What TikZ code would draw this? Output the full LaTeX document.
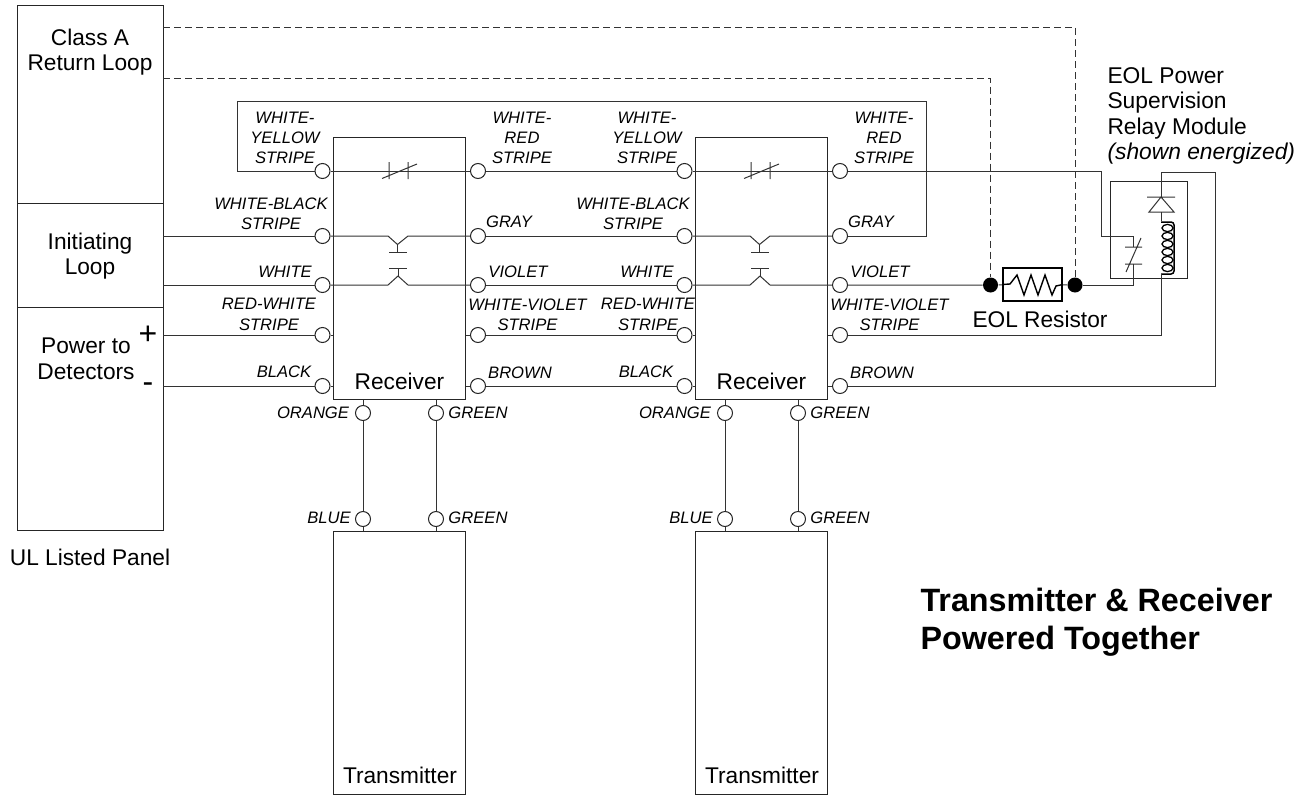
\documentclass[tikz,border=0pt]{standalone}
\usepackage{fontspec}
\setmainfont{Liberation Sans}
\begin{document}
\begin{tikzpicture}[x=1pt,y=-1pt,
  line width=1pt,
  wire/.style={draw=black!80},
  box/.style={draw=black!85,line width=1pt},
  term/.style={circle,draw=black!85,fill=white,minimum size=15pt,inner sep=0pt,line width=1pt},
  dot/.style={circle,fill=black,minimum size=15pt,inner sep=0pt},
  lab/.style={font=\fontsize{16.6}{20.3}\selectfont\itshape,align=center,inner sep=0pt},
  txt/.style={font=\fontsize{22.7}{25.5}\selectfont,align=center,inner sep=0pt},
  dashwire/.style={draw=black!80,dash pattern=on 7pt off 4pt}]
\useasboundingbox (0,0) rectangle (1309,795);
% panel
\node[box,minimum width=146pt,minimum height=525pt,inner sep=0pt] (panel) at (90,267.5) {};
\coordinate (p1l) at (17,203); \coordinate (p1r) at (163,203);
\coordinate (p2l) at (17,307); \coordinate (p2r) at (163,307);
\draw[box] (p1l)--(p1r) (p2l)--(p2r);
\node[txt] (classa) at (90,52) {Class A\\Return Loop};
\node[txt] (init) at (90,256) {Initiating\\Loop};
\node[txt] (power) at (86,359) {Power to\\Detectors};
\node[font=\fontsize{32}{30}\selectfont,inner sep=0pt] (plus) at (148,335) {+};
\node[font=\fontsize{32}{30}\selectfont,inner sep=0pt] (minus) at (148,388) {-};
\node[txt] (ul) at (90,557) {UL Listed Panel};
\node[font=\fontsize{32.3}{38}\selectfont\bfseries,align=left,inner sep=0pt,anchor=west] (title) at (920,622) {Transmitter \& Receiver\\Powered Together};
\foreach \n/\d/\e in {1/0/0,2/362/379}{
  \node[box,minimum width=132pt,minimum height=262.5pt,inner sep=0pt] (rx\n) at (399.5+\d,268.25) {};
  \node[box,minimum width=132pt,minimum height=263pt,inner sep=0pt] (tx\n) at (399.5+\d,662.5) {};
  \node[txt,anchor=center] (rxl\n) at (399.5+\d,381) {Receiver};
  \node[txt,anchor=center] (txl\n) at (400+\d,775) {Transmitter};
  \foreach \k/\y in {a/171,b/236,c/285,d/335,e/386}{
    \node[term] (l\k\n) at (322.5+\d,\y) {};
    \node[term] (r\k\n) at (478+\d,\y) {};
  }
  \node[term] (bo\n) at (363+\d,413) {};
  \node[term] (bg\n) at (436+\d,413) {};
  \node[term] (tb\n) at (363+\d,519) {};
  \node[term] (tg\n) at (436+\d,519) {};
  \draw[wire] (rx\n.south -| bo\n) -- (bo\n) (bo\n) -- (tb\n) (tb\n) -- (tx\n.north -| tb\n);
  \draw[wire] (rx\n.south -| bg\n) -- (bg\n) (bg\n) -- (tg\n) (tg\n) -- (tx\n.north -| tg\n);
  % stubs
  \draw[wire] (ld\n) -- (rx\n.west |- ld\n) (le\n) -- (rx\n.west |- le\n)
              (rd\n) -- (rx\n.east |- rd\n) (re\n) -- (rx\n.east |- re\n);
  % NC contact
  \draw[wire] (la\n) -- (ra\n);
  \draw[wire] (389+\d,162) -- (389+\d,179) (408+\d,162) -- (408+\d,179) (382+\d,178.5) -- (417+\d,164);
  % opto NO / NC
  \draw[wire] (lb\n) -- (388+\d,236) -- (397.5+\d,244.5) -- (408+\d,236) -- (rb\n);
  \draw[wire] (397.5+\d,244.5) -- (397.5+\d,252.5) (389+\d,252.5) -- (407+\d,252.5);
  \draw[wire] (lc\n) -- (388+\d,285) -- (398+\d,276) -- (408+\d,285) -- (rc\n);
  \draw[wire] (398+\d,276) -- (398+\d,268) (389+\d,268) -- (407+\d,268);
  % labels
  \node[lab] (n1\n) at (285+\d,138) {WHITE-\\YELLOW\\STRIPE};
  \node[lab] (n2\n) at (271+\d,214) {WHITE-BLACK\\STRIPE};
  \node[lab] (n3\n) at (285+\d,272) {WHITE};
  \node[lab] (n4\n) at (269+\e,314.5) {RED-WHITE\\STRIPE};
  \node[lab] (n5\n) at (284+\d,372) {BLACK};
  \node[lab] (n6\n) at (522+\d,138) {WHITE-\\RED\\STRIPE};
  \node[lab] (n7\n) at (509+\d,222) {GRAY};
  \node[lab] (n8\n) at (518+\d,272) {VIOLET};
  \node[lab] (n9\n) at (527.5+\d,314.5) {WHITE-VIOLET\\STRIPE};
  \node[lab] (n10\n) at (520+\d,373) {BROWN};
  \node[lab] (n11\n) at (313+\d,413) {ORANGE};
  \node[lab] (n12\n) at (478+\d,413) {GREEN};
  \node[lab] (n13\n) at (329+\d,518) {BLUE};
  \node[lab] (n14\n) at (478+\d,518) {GREEN};
}
% wires from panel
\foreach \k/\y in {b/236,c/285,d/335,e/386}{
  \draw[wire] (163,\y) -- (l\k1);
}
\foreach \k in {a,b,c,d,e}{ \draw[wire] (r\k1) -- (l\k2); }
% top loop
\draw[wire] (la1) -- (237,171) -- (237,101) -- (926,101) -- (926,236) -- (rb2);
% resistor
\node[dot] (d1) at (990.5,285) {};
\node[dot] (d2) at (1075,285) {};
\node[draw=black,line width=1.7pt,minimum width=59pt,minimum height=33pt,inner sep=0pt] (res) at (1032.5,284.5) {};
\draw[wire] (rc2) -- (d1) -- (res);
\draw[wire] (res) -- (d2);
\draw[draw=black,line width=1.4pt] (res.west) -- (1010,284) -- (1017,275) -- (1024,295) -- (1031,275) -- (1038,295) -- (1045,275) -- (1052,295) -- (1056,286) -- (res.east);
\node[txt] (eol) at (1040,319) {EOL Resistor};
% dashed return
\draw[dashwire] (163,27) -- (1075,27) -- (d2);
\draw[dashwire] (163,78) -- (990.5,78) -- (d1);
% relay
\node[box,minimum width=77pt,minimum height=97pt,inner sep=0pt] (relay) at (1149.2,229.5) {};
\draw[wire] (ra2) -- (1101,171) -- (1101,236) -- (1133,236) -- (1133,247);
\draw[wire] (1125,247) -- (1142,247) (1125,264) -- (1142,264) (1126,272) -- (1141,238);
\draw[wire] (d2) -- (1133,285) -- (1133,264);
\draw[wire] (re2) -- (1215,386) -- (1215,172) -- (1161,172) -- (1161,197);
\draw[wire] (1147,197) -- (1175,197) (1161,197) -- (1149,212) -- (1174,212) -- cycle;
\draw[wire] (1161,212) -- (1161,221);
\draw[draw=black,line width=1.5pt] (1161,222) -- (1171,222) to[out=0,in=90] (1174,225) -- (1174,271) to[out=-90,in=0] (1171,274) -- (1161,274);
\foreach \y [count=\c] in {228,236,244,252,260,268}{
  \draw[draw=black,line width=1.3pt] (1167.5,\y) ellipse [x radius=5.5pt,y radius=3.6pt];
}
\draw[wire] (1161,274) -- (1161,335) -- (rd2);
\node[font=\fontsize{22.8}{25.3}\selectfont,align=left,inner sep=0pt,anchor=north west] (relayl) at (1107,67) {EOL Power\\Supervision\\Relay Module\\\itshape (shown energized)};
\end{tikzpicture}
\end{document}
